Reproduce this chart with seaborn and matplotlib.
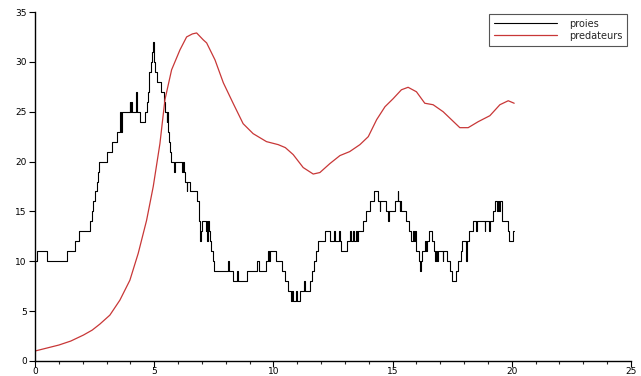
import numpy as np
import pandas as pd
import matplotlib
matplotlib.use("Agg")
import matplotlib.pyplot as plt
from matplotlib.ticker import MultipleLocator
import seaborn as sns

# Prey population (stochastic, integer counts) - step change times and values
prey_t = [0.0, 0.1, 0.52, 1.33, 1.68, 1.86, 2.31, 2.38, 2.44, 2.52, 2.62, 2.66, 2.69,
          3.0, 3.21, 3.42, 3.55, 3.60, 3.65, 3.97, 4.0, 4.02, 4.05, 4.24, 4.27, 4.42,
          4.63, 4.70, 4.74, 4.80, 4.86, 4.92, 4.96, 5.0, 5.05, 5.12, 5.30, 5.42, 5.47,
          5.52, 5.55, 5.57, 5.62, 5.67, 5.72, 5.82, 5.86, 6.16, 6.19, 6.24, 6.30, 6.36,
          6.39, 6.50, 6.78, 6.86, 6.90, 6.93, 6.97, 7.0, 7.17, 7.20, 7.22, 7.25, 7.30,
          7.36, 7.40, 7.45, 7.52, 8.10, 8.14, 8.29, 8.48, 8.52, 8.91, 9.30, 9.39, 9.70,
          9.77, 9.80, 9.84, 10.13, 10.34, 10.48, 10.62, 10.72, 10.80, 10.84, 10.95,
          10.98, 11.10, 11.30, 11.33, 11.53, 11.62, 11.70, 11.78, 11.88, 12.16, 12.37,
          12.55, 12.58, 12.77, 12.80, 12.84, 13.07, 13.20, 13.25, 13.35, 13.40, 13.45,
          13.52, 13.56, 13.77, 13.90, 14.05, 14.24, 14.39, 14.46, 14.49, 14.71, 14.80,
          14.83, 15.10, 15.21, 15.24, 15.30, 15.33, 15.37, 15.58, 15.70, 15.78, 15.84,
          15.88, 15.93, 15.97, 16.0, 16.10, 16.15, 16.18, 16.22, 16.35, 16.40, 16.44,
          16.53, 16.67, 16.74, 16.78, 16.82, 16.86, 16.90, 17.10, 17.13, 17.27, 17.40,
          17.51, 17.65, 17.75, 17.85, 17.93, 18.09, 18.12, 18.20, 18.38, 18.50, 18.55,
          18.86, 18.89, 19.05, 19.10, 19.20, 19.29, 19.40, 19.43, 19.47, 19.50, 19.60,
          19.85, 19.90, 20.05, 20.10]
prey_n = [10, 11, 10, 11, 12, 13, 14, 15, 16, 17, 18, 19, 20,
          21, 22, 23, 25, 23, 25, 26, 25, 26, 25, 27, 25, 24,
          25, 26, 27, 29, 30, 31, 32, 30, 29, 28, 27, 26, 25,
          24, 25, 23, 22, 21, 20, 19, 20, 19, 20, 19, 18, 17,
          18, 17, 16, 15, 14, 12, 13, 14, 13, 14, 12, 14, 13,
          12, 11, 10, 9, 10, 9, 8, 9, 8, 9, 10, 9, 10,
          11, 10, 11, 10, 9, 8, 7, 6, 7, 6, 7,
          6, 7, 8, 7, 8, 9, 10, 11, 12, 13, 12,
          13, 12, 13, 12, 11, 12, 13, 12, 13, 12, 13,
          12, 13, 14, 15, 16, 17, 16, 15, 16, 15, 14,
          15, 16, 17, 16, 15, 16, 15, 14, 13, 12, 13,
          12, 13, 12, 11, 10, 9, 10, 11, 12, 11, 12,
          13, 12, 11, 10, 11, 10, 11, 10, 11, 10, 9,
          8, 9, 10, 11, 12, 10, 12, 13, 14, 13, 14,
          13, 14, 13, 14, 15, 16, 15, 16, 15, 16, 14,
          13, 12, 13, 13]

# Predator population (deterministic, smooth)
pred_t = [0.0, 0.5, 1.0, 1.5, 2.03, 2.4, 2.72, 3.14, 3.56, 3.98, 4.33, 4.68, 4.96,
          5.24, 5.45, 5.73, 6.08, 6.36, 6.6, 6.78, 7.06, 7.2, 7.55, 7.9, 8.32, 8.73,
          9.15, 9.71, 10.2, 10.5, 10.83, 11.25, 11.67, 11.95, 12.37, 12.79, 13.2,
          13.63, 13.98, 14.33, 14.68, 15.02, 15.37, 15.65, 16.0, 16.35, 16.7, 17.12,
          17.47, 17.82, 18.17, 18.59, 19.08, 19.5, 19.85, 20.1]
pred_n = [1.0, 1.3, 1.6, 2.0, 2.6, 3.1, 3.7, 4.6, 6.1, 8.1, 10.8, 14.1, 17.5,
          21.8, 26.2, 29.2, 31.2, 32.5, 32.8, 32.9, 32.2, 31.9, 30.2, 27.9, 25.8, 23.8,
          22.8, 22.0, 21.7, 21.4, 20.7, 19.4, 18.75, 18.9, 19.8, 20.6, 21.0,
          21.7, 22.5, 24.2, 25.5, 26.3, 27.2, 27.45, 27.0, 25.85, 25.7, 25.0,
          24.2, 23.4, 23.4, 24.0, 24.6, 25.7, 26.1, 25.85]

series_labels = ["proies", "predateurs"]
x_ticks = [0, 5, 10, 15, 20, 25]
y_ticks = [0, 5, 10, 15, 20, 25, 30, 35]

sns.set_style("ticks")
plt.rcParams["font.family"] = ["DejaVu Sans"]

fig = plt.figure(figsize=(6.41, 3.76), dpi=100)
ax = fig.add_axes([35 / 641, 15 / 376, 596 / 641, 349 / 376])

prey_df = pd.DataFrame({"t": prey_t, "n": prey_n})
pred_df = pd.DataFrame({"t": pred_t, "n": pred_n})

sns.lineplot(data=prey_df, x="t", y="n", ax=ax, color="black", linewidth=0.8,
             drawstyle="steps-post", estimator=None, label=series_labels[0])
sns.lineplot(data=pred_df, x="t", y="n", ax=ax, color="#c83737", linewidth=0.9,
             estimator=None, label=series_labels[1])

ax.set_xlim(0, 25)
ax.set_ylim(0, 35)
ax.set_xticks(x_ticks)
ax.set_yticks(y_ticks)
ax.xaxis.set_minor_locator(MultipleLocator(1))
ax.set_xlabel("")
ax.set_ylabel("")
for s in ["top", "right"]:
    ax.spines[s].set_visible(False)
for s in ["left", "bottom"]:
    ax.spines[s].set_linewidth(1.0)
    ax.spines[s].set_color("black")
ax.tick_params(axis="both", which="major", direction="out", length=4, width=0.8,
               labelsize=6.5, colors="black")
ax.tick_params(axis="x", which="major", pad=0.5)
ax.tick_params(axis="y", which="major", pad=2)
ax.tick_params(axis="x", which="minor", direction="out", length=2.5, width=0.8)

leg = ax.legend(loc="upper right", bbox_to_anchor=(627 / 641, 1 - 14 / 376),
                bbox_transform=fig.transFigure, fontsize=7, frameon=True,
                fancybox=False, framealpha=1, edgecolor="#555555",
                handlelength=6.5, handletextpad=1.2, borderpad=0.5,
                labelspacing=0.2, borderaxespad=0)
leg.get_frame().set_linewidth(0.8)

fig.savefig("out.png", dpi=100)
